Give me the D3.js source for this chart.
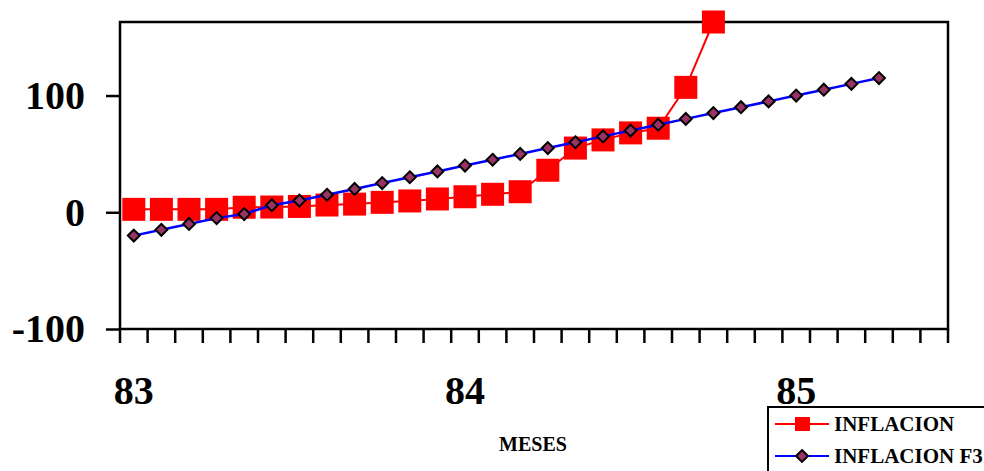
<!DOCTYPE html>
<html>
<head>
	<script src="https://cdn.jsdelivr.net/npm/d3@7"></script>
	<style>
		body { margin: 0; background: white; }
		text { font-family: "Liberation Serif", "Times New Roman", serif; font-weight: bold; }
	</style>
</head>
<body>
	<script>
		// months on the x axis, 83-1 .. 85-6
		var months = ["83-1","83-2","83-3","83-4","83-5","83-6","83-7","83-8","83-9","83-10","83-11","83-12",
			"84-1","84-2","84-3","84-4","84-5","84-6","84-7","84-8","84-9","84-10","84-11","84-12",
			"85-1","85-2","85-3","85-4","85-5","85-6"];
		var monthTicks = ["83-1", "84-1", "85-1"];
		var yTicks = [-100, 0, 100];

		var inflacion = [2.5, 2.5, 2.5, 2.5, 4.3, 4.5, 5, 6.2, 7, 8.5, 9.7, 11.4, 13.3, 15.4, 17.6,
			36, 55, 62, 68, 72, 107, 163];
		var inflacionF3 = [-20, -15, -10, -5, -1.5, 6, 10, 15, 20, 25, 30, 35, 40, 45, 50,
			55, 60, 65, 70, 75, 80, 85, 90, 95, 100, 105, 110, 115];

		var width = 984, height = 471;
		// plot frame (note: "top" is taken by window.top)
		var plotL = 120, plotR = 948, plotT = 22, plotB = 329;

		var svg = d3.select("body").append("svg")
			.attr("width", width)
			.attr("height", height);

		var x = d3.scaleBand().domain(months).range([plotL, plotR]);
		var y = d3.scaleLinear().domain([-100, 163]).range([plotB, plotT]);

		var cx = function(i) { return x(months[i]) + x.bandwidth() / 2; };

		// frame
		svg.append("rect")
			.attr("x", plotL).attr("y", plotT)
			.attr("width", plotR - plotL).attr("height", plotB - plotT)
			.attr("fill", "none").attr("stroke", "black").attr("stroke-width", 2.5);

		// y axis (plain hyphen for the minus sign)
		var yAxis = svg.append("g")
			.attr("transform", "translate(" + plotL + ",0)")
			.call(d3.axisLeft(y).tickValues(yTicks).tickSize(14).tickPadding(21)
				.tickFormat(function(d) { return String(d); }));
		yAxis.select(".domain").remove();
		yAxis.selectAll("line").attr("stroke-width", 2.5);
		yAxis.selectAll("text").attr("font-size", 40).attr("fill", "black")
			.style("font-family", "Liberation Serif").style("font-weight", "bold");

		// x ticks between categories
		var edges = months.map(function(m) { return x(m); }).concat([plotR]);
		svg.selectAll(".xtick").data(edges).enter().append("line")
			.attr("x1", function(d) { return d; }).attr("x2", function(d) { return d; })
			.attr("y1", plotB).attr("y2", plotB + 14)
			.attr("stroke", "black").attr("stroke-width", 2.5);

		var xAxis = svg.append("g")
			.attr("transform", "translate(0," + plotB + ")")
			.call(d3.axisBottom(x).tickValues(monthTicks).tickSize(0).tickPadding(0)
				.tickFormat(function(d) { return d.split("-")[0]; }));
		xAxis.select(".domain").remove();
		xAxis.selectAll("text").attr("font-size", 40).attr("fill", "black")
			.attr("dy", null).attr("y", 75)
			.style("font-family", "Liberation Serif").style("font-weight", "bold");

		svg.append("text")
			.attr("x", 533).attr("y", 451)
			.attr("text-anchor", "middle")
			.attr("font-size", 20)
			.text("MESES");

		// INFLACION
		var line = d3.line().x(function(d, i) { return cx(i); }).y(function(d) { return y(d); });

		svg.append("path").datum(inflacion)
			.attr("d", line).attr("fill", "none")
			.attr("stroke", "#ff0000").attr("stroke-width", 2);

		var sq = 23;
		svg.selectAll(".sq").data(inflacion).enter().append("rect")
			.attr("x", function(d, i) { return cx(i) - sq / 2; })
			.attr("y", function(d) { return y(d) - sq / 2; })
			.attr("width", sq).attr("height", sq)
			.attr("fill", "#ff0000");

		// INFLACION F3
		svg.append("path").datum(inflacionF3)
			.attr("d", line).attr("fill", "none")
			.attr("stroke", "#0000ff").attr("stroke-width", 2.5);

		var diamond = d3.symbol().type(d3.symbolDiamond2).size(90);
		svg.selectAll(".dm").data(inflacionF3).enter().append("path")
			.attr("d", diamond)
			.attr("transform", function(d, i) { return "translate(" + cx(i) + "," + y(d) + ")"; })
			.attr("fill", "#993366").attr("stroke", "black").attr("stroke-width", 2);

		// legend
		var legend = svg.append("g");
		legend.append("rect")
			.attr("x", 768).attr("y", 407)
			.attr("width", 240).attr("height", 80)
			.attr("fill", "white").attr("stroke", "black").attr("stroke-width", 2);

		legend.append("line").attr("x1", 775).attr("x2", 829).attr("y1", 424).attr("y2", 424)
			.attr("stroke", "#ff0000").attr("stroke-width", 2);
		legend.append("rect").attr("x", 795).attr("y", 417).attr("width", 15).attr("height", 14)
			.attr("fill", "#ff0000");
		legend.append("text").attr("x", 834).attr("y", 431).attr("font-size", 21).text("INFLACION");

		legend.append("line").attr("x1", 775).attr("x2", 829).attr("y1", 456).attr("y2", 456)
			.attr("stroke", "#0000ff").attr("stroke-width", 2);
		legend.append("path").attr("d", diamond)
			.attr("transform", "translate(802,456)")
			.attr("fill", "#993366").attr("stroke", "black").attr("stroke-width", 2);
		legend.append("text").attr("x", 834).attr("y", 463).attr("font-size", 21).text("INFLACION F3");
	</script>
</body>
</html>
